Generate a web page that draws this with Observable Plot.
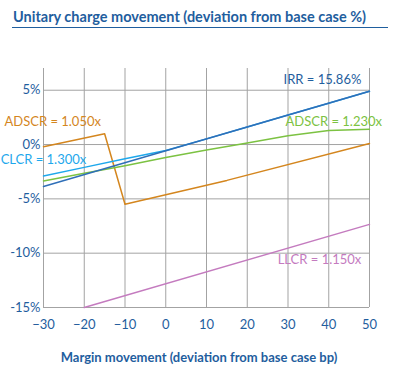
<!DOCTYPE html>
<html>
<head>
<meta charset="utf-8">
<script src="https://cdn.jsdelivr.net/npm/d3@7"></script>
<script src="https://cdn.jsdelivr.net/npm/@observablehq/plot@0.6"></script>
<style>
  html, body { margin: 0; padding: 0; background: #fff; }
  body { width: 393px; height: 377px; overflow: hidden; font-family: Lato, "Open Sans", sans-serif; }
  #title { position: absolute; left: 12px; top: 0; width: 376px; height: 28px; border-bottom: 1.5px solid #1f5e9e;
           color: #1f5e9e; font-weight: 700; font-size: 14.5px; line-height: 34px; box-sizing: border-box; padding-left: 1px; white-space: nowrap; }
  #chart { position: absolute; left: 0; top: 30px; }
  #xlabel { position: absolute; left: 0; top: 347px; width: 398px; text-align: center; color: #1f5e9e;
            font-weight: 700; font-size: 13px; line-height: 20px; }
</style>
</head>
<body>
<div id="title">Unitary charge movement (deviation from base case %)</div>
<div id="chart"></div>
<div id="xlabel">Margin movement (deviation from base case bp)</div>
<script>
// x: margin movement (bp)
const xTicks = [-30, -20, -10, 0, 10, 20, 30, 40, 50];
const yTicks = [5, 0, -5, -10, -15];

// series values (% deviation of unitary charge)
const irrX = [-30, 50];
const irrY = [-3.87, 4.9];
const clcrX = [-30, -20, -10, 0, 10, 20, 30, 40, 50];
const clcrY = [-2.9, -2.1, -1.3, -0.55, 0.52, 1.62, 2.72, 3.8, 4.9];
const adscr123X = [-30, -20, -10, 0, 10, 20, 30, 40, 50];
const adscr123Y = [-3.35, -2.65, -1.95, -1.2, -0.5, 0.15, 0.8, 1.3, 1.41];
const adscr105X = [-30, -15, -10, 15, 50];
const adscr105Y = [-0.2, 1.0, -5.5, -3.3, 0.1];
const llcrX = [-20, 50];
const llcrY = [-15, -7.35];

// series labels (anchor points in data units)
const labelNames = ["IRR = 15.86%", "ADSCR = 1.230x", "ADSCR = 1.050x", "CLCR = 1.300x", "LLCR = 1.150x"];
const labelX = [48, 29.4, -15.9, -19.5, 48];
const labelY = [5.92, 2.05, 2.05, -1.42, -10.65];
const labelAnchor = ["end", "start", "end", "end", "end"];
const colors = ["#2f6fb8", "#7cc242", "#d4861e", "#1ea8ec", "#c47bbf"];
const labelColors = ["#1f5e9e", "#7cc242", "#d4861e", "#1ea8ec", "#c47bbf"];

const toRows = (xs, ys) => xs.map((x, i) => ({x, y: ys[i]}));
const labels = labelNames.map((t, i) => ({t, x: labelX[i], y: labelY[i], a: labelAnchor[i], c: labelColors[i]}));

const grid = "#a3a3a3";
const blue = "#1f5e9e";

const chart = Plot.plot({
  width: 393,
  height: 310,
  marginTop: 38,
  marginBottom: 33,
  marginLeft: 43,
  marginRight: 24,
  style: {fontFamily: "Lato, 'Open Sans', sans-serif", fontSize: "13px", color: blue, overflow: "visible"},
  x: {domain: [-30, 50], ticks: xTicks},
  y: {domain: [-15, 7], ticks: yTicks},
  marks: [
    Plot.ruleX(xTicks, {stroke: grid, strokeWidth: 1, strokeOpacity: 1}),
    Plot.ruleY(yTicks, {x1: -30, x2: 50, stroke: grid, strokeWidth: 1, strokeOpacity: 1}),
    Plot.axisX({ticks: xTicks, tickSize: 0, tickPadding: 12, label: null, fill: blue, fontSize: 13}),
    Plot.axisY({ticks: yTicks, tickSize: 0, tickPadding: 3, label: null, fill: blue, fontSize: 13, tickFormat: d => d + "%"}),
    Plot.line(toRows(llcrX, llcrY), {x: "x", y: "y", stroke: colors[4], strokeWidth: 1.5}),
    Plot.line(toRows(adscr105X, adscr105Y), {x: "x", y: "y", stroke: colors[2], strokeWidth: 1.5}),
    Plot.line(toRows(adscr123X, adscr123Y), {x: "x", y: "y", stroke: colors[1], strokeWidth: 1.5}),
    Plot.line(toRows(clcrX, clcrY), {x: "x", y: "y", stroke: colors[3], strokeWidth: 1.5}),
    Plot.line(toRows(irrX, irrY), {x: "x", y: "y", stroke: colors[0], strokeWidth: 1.5}),
    Plot.text(labels.filter(d => d.a === "end"), {x: "x", y: "y", text: "t", textAnchor: "end", fill: "c", fontSize: 13}),
    Plot.text(labels.filter(d => d.a === "start"), {x: "x", y: "y", text: "t", textAnchor: "start", fill: "c", fontSize: 13})
  ]
});
document.getElementById("chart").appendChild(chart);
</script>
</body>
</html>
